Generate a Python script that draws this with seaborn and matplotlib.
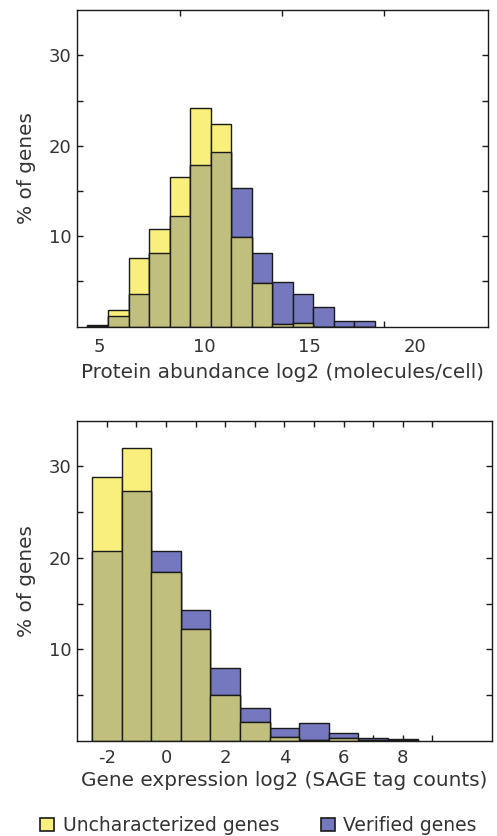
import numpy as np
import pandas as pd
import matplotlib
matplotlib.use("Agg")
import matplotlib.pyplot as plt
import seaborn as sns
from matplotlib.patches import Patch

# ---------------- data ----------------
protein_edges = [4.43, 5.41, 6.39, 7.36, 8.34, 9.32, 10.29, 11.27,
                 12.25, 13.22, 14.20, 15.18, 16.15, 17.13, 18.10]
protein_unchar = [0.2, 1.9, 7.6, 10.8, 16.5, 24.2, 22.4, 9.9, 4.8,
                  0.3, 0.45, 0.0, 0.0, 0.0]
protein_verified = [0.12, 1.17, 3.6, 8.2, 12.2, 17.9, 19.3, 15.3, 8.2,
                    4.95, 3.67, 2.13, 0.62, 0.62]
protein_ticks = [5, 10, 15, 20]

sage_centers = [-2, -1, 0, 1, 2, 3, 4, 5, 6, 7, 8]
sage_unchar = [28.8, 32.0, 18.5, 12.2, 5.0, 2.0, 0.36, 0.07, 0.25, 0.1, 0.1]
sage_verified = [20.8, 27.3, 20.8, 14.3, 8.0, 3.55, 1.42, 1.9, 0.88, 0.26, 0.18]
sage_ticks = list(range(-2, 10))
sage_tick_labels = ["-2", "", "0", "", "2", "", "4", "", "6", "", "8", ""]

y_ticks = [5, 10, 15, 20, 25, 30]
y_tick_labels = ["", "10", "", "20", "", "30"]

series_names = ["Uncharacterized genes", "Verified genes"]
xlabels = ["Protein abundance log2 (molecules/cell)",
           "Gene expression log2 (SAGE tag counts)"]
ylabel = "% of genes"

# ---------------- style ----------------
YELLOW = "#F8EF7C"
BLUE = "#7578BE"
OLIVE = "#C1BF7D"
EDGE = "#1a1a1a"
TXT = "#333333"

sns.set_style("white")
plt.rcParams["font.family"] = ["DejaVu Sans"]
plt.rcParams["text.color"] = TXT
plt.rcParams["axes.labelcolor"] = TXT
plt.rcParams["xtick.color"] = TXT
plt.rcParams["ytick.color"] = TXT

fig = plt.figure(figsize=(4.97, 8.36), dpi=100)
ax1 = fig.add_axes([0.1555, 0.6092, 0.827, 0.3788])
ax2 = fig.add_axes([0.1555, 0.1140, 0.8338, 0.3828])


def draw(ax, edges, unchar, verified):
    edges = [float(e) for e in edges]
    centers = [(a + b) / 2 for a, b in zip(edges[:-1], edges[1:])]
    overlap = list(np.minimum(unchar, verified))
    for w, c in [(verified, BLUE), (unchar, YELLOW), (overlap, OLIVE)]:
        df = pd.DataFrame({"x": centers, "w": [float(v) for v in w]})
        sns.histplot(data=df, x="x", weights="w", bins=edges, ax=ax,
                     color=c, alpha=1, edgecolor=EDGE, linewidth=1.0,
                     stat="count")


def style_axes(ax):
    ax.set_ylim(0, 35)
    ax.set_yticks(y_ticks)
    ax.set_yticklabels(y_tick_labels)
    ax.set_ylabel(ylabel, fontsize=14.4, labelpad=9)
    ax.tick_params(axis="y", which="both", direction="in", left=True,
                   right=True, length=4, width=1, labelsize=13, pad=4,
                   color=EDGE)
    for s in ax.spines.values():
        s.set_visible(True)
        s.set_color(EDGE)
        s.set_linewidth(1.0)


# top panel
draw(ax1, protein_edges, protein_unchar, protein_verified)
style_axes(ax1)
ax1.set_xlim(3.95, 23.5)
ax1.set_xticks(protein_ticks)
ax1.set_xticklabels([str(t) for t in protein_ticks])
ax1.set_xticks([8.85, 13.7, 18.55], minor=True)
ax1.tick_params(axis="x", which="major", length=0, labelsize=13, pad=8)
ax1.tick_params(axis="x", which="minor", direction="in", top=True,
                bottom=True, length=4, width=1, color=EDGE)
ax1.set_xlabel(xlabels[0], fontsize=14.4, labelpad=5)

# bottom panel
sage_edges = [c - 0.5 for c in sage_centers] + [sage_centers[-1] + 0.5]
draw(ax2, sage_edges, sage_unchar, sage_verified)
style_axes(ax2)
ax2.set_xlim(-3, 11)
ax2.set_xticks(sage_ticks)
ax2.set_xticklabels(sage_tick_labels)
ax2.tick_params(axis="x", which="major", direction="in", top=True,
                bottom=True, length=4, width=1, labelsize=13, pad=6,
                color=EDGE)
ax2.set_xlabel(xlabels[1], fontsize=14.4, labelpad=3)

handles = [Patch(facecolor=YELLOW, edgecolor=EDGE, linewidth=1.2),
           Patch(facecolor=BLUE, edgecolor=EDGE, linewidth=1.2)]
fig.legend(handles, series_names, loc="lower center",
           bbox_to_anchor=(0.52, -0.019), ncol=2, frameon=False,
           fontsize=13.5, handlelength=0.75, handleheight=0.75,
           handletextpad=0.45, columnspacing=2.2)

fig.savefig("out.png", dpi=100)
